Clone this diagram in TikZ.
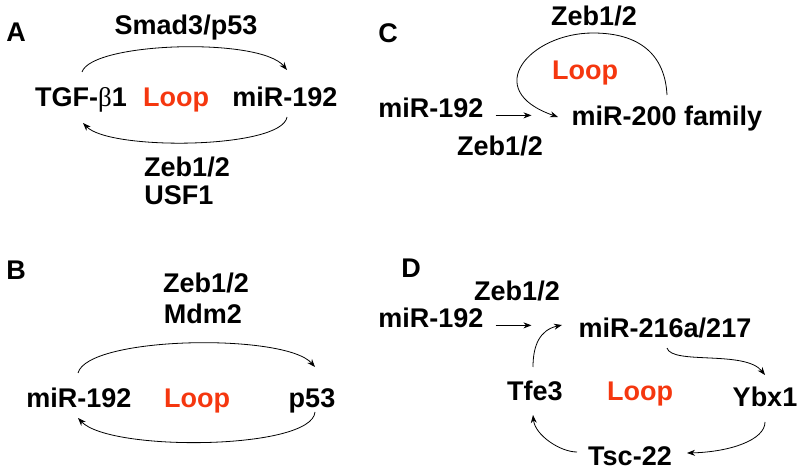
\documentclass[tikz,border=0pt]{standalone}
\usepackage{fontspec}
\setmainfont{Liberation Sans}
\newfontfamily\symfont{Liberation Serif}
\usetikzlibrary{calc,arrows.meta}
\definecolor{loopred}{RGB}{245,55,15}
\tikzstyle{lb}=[font=\bfseries\fontsize{27bp}{31bp}\selectfont, inner sep=0, anchor=base]
\tikzstyle{lp}=[lb, text=loopred]
\tikzstyle{ar}=[line width=0.8bp, -{Stealth[length=8bp,width=6bp]}]

\begin{document}
\begin{tikzpicture}[x=1bp, y=-1bp]
\useasboundingbox (0,0) rectangle (800,470);
% A
\node at (16,42)[lb](A){A};
\node at (186,35)[lb](sm){Smad3/p53};
\node at (81,107)[lb](tg){TGF-{\symfont\mdseries β}1};
\node at (176,107)[lp](la){Loop};
\node at (285,107)[lb](ma){miR-192};
\node at (187,177)[lb](za){Zeb1/2};
\node at (179,205)[lb](us){USF1};
\draw[ar] ($(tg.base)+(1,-35)$) .. controls +(10,-30) and +(-27,-33) .. ($(ma.base)+(2,-37)$);
\draw[ar] ($(ma.base)+(2,10)$) .. controls +(-5,32) and +(27,28) .. ($(tg.base)+(2,16)$);
% B
\node at (16,280)[lb](B){B};
\node at (206,293)[lb](zb){Zeb1/2};
\node at (203,324)[lb](md){Mdm2};
\node at (79,407)[lb](mb){miR-192};
\node at (197,407)[lp](lbb){Loop};
\node at (312,407)[lb](p){p53};
\draw[ar] ($(mb.base)+(-1,-34)$) .. controls +(10,-37) and +(-30,-34) .. ($(p.base)+(3,-40)$);
\draw[ar] ($(p.base)+(3,5)$) .. controls +(-3,38) and +(32,34) .. ($(mb.base)+(-1,11)$);
% C
\node at (388,43)[lb](C){C};
\node at (594,26)[lb](zc){Zeb1/2};
\node at (585,80)[lp](lc){Loop};
\node at (431,118)[lb](mc){miR-192};
\node at (667,126)[lb](fa){miR-200 family};
\node at (500,156)[lb](zc2){Zeb1/2};
\draw[ar, shorten <=12bp, shorten >=40bp] (mc.mid east) -- (mc.mid east -| fa.west);
\draw[ar] ($(fa.base)+(0,-31)$) .. controls (665,55) and (640,33) .. (593,33)
  .. controls (530,33) and (480,90) .. ($(fa.base)+(-109,-9)$);
% D
\node at (411,278)[lb](D){D};
\node at (517,301)[lb](zd){Zeb1/2};
\node at (431,328)[lb](md2){miR-192};
\node at (665,338)[lb](m2){miR-216a/217};
\node at (765,406)[lb](yb){Ybx1};
\node at (535,400)[lb](tf){Tfe3};
\node at (640,400)[lp](ld){Loop};
\node at (630,465)[lb](ts){Tsc-22};
\draw[ar, shorten <=12bp, shorten >=47bp] (md2.mid east) -- (md2.mid east -| m2.west);
\draw[ar] ($(m2.base)+(2,10)$) .. controls +(5,17) and +(-20,-25) .. ($(yb.base)+(0,-31)$);
\draw[ar] ($(yb.base)+(0,16)$) .. controls +(0,18) and +(43,-1) .. ($(ts.base)+(57,-12)$);
\draw[ar] ($(ts.base)+(-53,-13)$) .. controls +(-17,0) and +(2,20) .. ($(tf.base)+(-2,15)$);
\draw[ar] ($(tf.base)+(-2,-33)$) .. controls +(0,-22) and +(-22,5) .. ($(m2.base)+(-103,-13)$);
\end{tikzpicture}
\end{document}
